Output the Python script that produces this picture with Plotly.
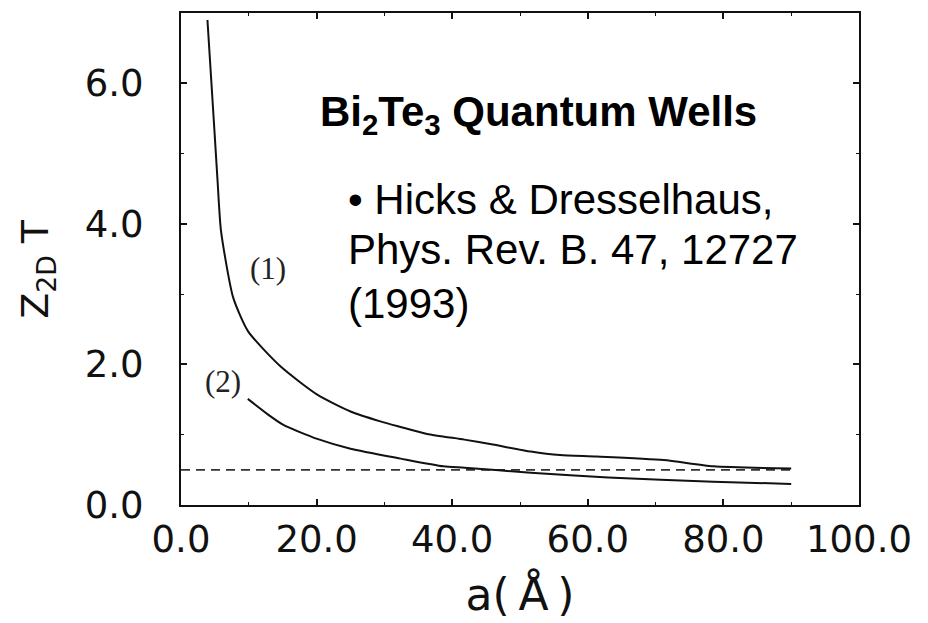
import plotly.graph_objects as go

# Curve (1): Z_2D T versus well width a (Angstrom)
a_curve1 = [3.9, 4.95, 5.4, 5.9, 7.7, 9.9, 14.7, 20.1, 25.0, 29.4, 32.4, 36.3, 41.8, 46.0,
            51.6, 55.9, 61.3, 71.2, 78.5, 90.0]
z_curve1 = [6.9, 5.3, 4.6, 3.9, 2.95, 2.47, 1.97, 1.57, 1.33, 1.19, 1.11, 1.01, 0.93, 0.86,
            0.76, 0.71, 0.69, 0.64, 0.55, 0.52]

# Curve (2)
a_curve2 = [9.85, 12.8, 15.1, 20.1, 25.0, 32.4, 38.7, 41.8, 51.6, 63.0, 78.5, 90.0]
z_curve2 = [1.51, 1.29, 1.14, 0.94, 0.80, 0.66, 0.55, 0.53, 0.46, 0.39, 0.33, 0.30]

# Bulk reference level (dashed)
a_bulk = [0.0, 90.0]
z_bulk = [0.5, 0.5]

x_ticks = [0, 20, 40, 60, 80, 100]
x_tick_labels = ["0.0", "20.0", "40.0", "60.0", "80.0", "100.0"]
y_ticks = [0, 2, 4, 6]
y_tick_labels = ["0.0", "2.0", "4.0", "6.0"]

ink = "#111111"

fig = go.Figure()
fig.add_trace(go.Scatter(x=a_bulk, y=z_bulk, mode="lines",
                         line=dict(color="#333333", width=1.6, dash="9px,6px"),
                         hoverinfo="skip", showlegend=False))
fig.add_trace(go.Scatter(x=a_curve1, y=z_curve1, mode="lines",
                         line=dict(color=ink, width=2, shape="spline", smoothing=0.6),
                         showlegend=False))
fig.add_trace(go.Scatter(x=a_curve2, y=z_curve2, mode="lines",
                         line=dict(color=ink, width=2, shape="spline", smoothing=0.6),
                         showlegend=False))

axis_common = dict(
    showline=True, linewidth=2, linecolor=ink, mirror="allticks",
    ticks="inside", ticklen=6, tickwidth=1.5, tickcolor=ink,
    showgrid=False, zeroline=False,
    tickfont=dict(family="DejaVu Sans", size=37, color=ink),
)

fig.update_xaxes(
    range=[0, 100], tickvals=x_ticks, ticktext=x_tick_labels,
    minor=dict(dtick=10, tick0=0, ticks="inside", ticklen=3, tickwidth=1.2, tickcolor=ink),
    ticklabelstandoff=1,
    title=dict(text="a(\u2009Å\u2009)", font=dict(family="DejaVu Sans", size=44, color=ink),
               standoff=19),
    **axis_common,
)
fig.update_yaxes(
    range=[0, 7], tickvals=y_ticks, ticktext=y_tick_labels,
    minor=dict(dtick=1, tick0=0, ticks="inside", ticklen=3, tickwidth=1.2, tickcolor=ink),
    ticklabelstandoff=28,
    **axis_common,
)

# Y-axis title placed as a rotated label left of the tick labels
fig.add_annotation(x=-0.211, y=0.48, xref="paper", yref="paper",
                   xanchor="center", yanchor="middle", textangle=-90,
                   text="Z<sub>2D</sub> T", showarrow=False,
                   font=dict(family="DejaVu Sans", size=38, color=ink))

text_font = dict(family="Liberation Sans, Arial, sans-serif", size=42, color="#000000")
fig.add_annotation(x=20.2, y=5.56, xref="x", yref="y", xanchor="left", yanchor="middle",
                   text="<b>Bi<sub>2</sub>Te<sub>3</sub> Quantum Wells</b>",
                   showarrow=False, font=text_font)
fig.add_annotation(x=24.3, y=4.34, xref="x", yref="y", xanchor="left", yanchor="middle",
                   text="• Hicks &amp; Dresselhaus,", showarrow=False, font=text_font)
fig.add_annotation(x=24.3, y=3.63, xref="x", yref="y", xanchor="left", yanchor="middle",
                   text="Phys. Rev. B. 47, 12727", showarrow=False, font=text_font)
fig.add_annotation(x=24.3, y=2.86, xref="x", yref="y", xanchor="left", yanchor="middle",
                   text="(1993)", showarrow=False, font=text_font)

label_font = dict(family="Liberation Serif, Times New Roman, serif", size=31, color="#222222")
fig.add_annotation(x=12.8, y=3.36, xref="x", yref="y", text="(1)", showarrow=False,
                   font=label_font)
fig.add_annotation(x=6.2, y=1.76, xref="x", yref="y", text="(2)", showarrow=False,
                   font=label_font)

fig.update_layout(
    width=928, height=623,
    margin=dict(l=181, r=69, t=13, b=118),
    paper_bgcolor="white", plot_bgcolor="white",
)

fig.write_html("out.html")
